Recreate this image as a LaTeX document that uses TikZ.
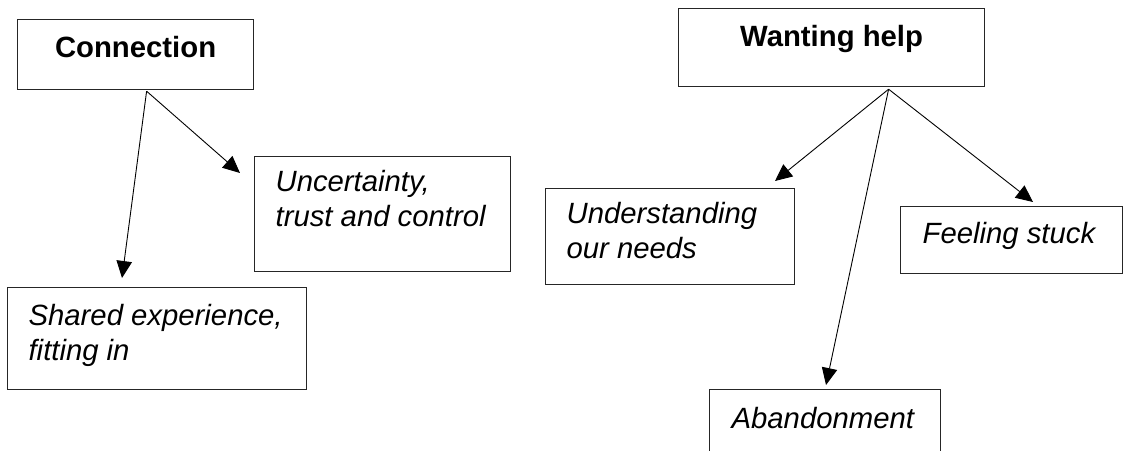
\documentclass[tikz,border=0pt]{standalone}
\usepackage{fontspec}
\setmainfont{Liberation Sans}
\usetikzlibrary{arrows.meta}
% centred heading content: width, height, first baseline, text
\newcommand\headc[4]{\vbox to #2{\hsize=#1\relax\parindent=0pt\parskip=0pt%
  \leftskip=0pt plus 1fil\rightskip=0pt plus 1fil\parfillskip=0pt\relax
  \kern\dimexpr#3-30pt\relax\leavevmode\rule{0pt}{30pt}#4\par\vfil}}
% left-aligned sub-box content: width, height, left pad, first baseline, text
\newcommand\subc[5]{\vbox to #2{\hsize=#1\relax\parindent=0pt\parskip=0pt%
  \leftskip=#3\relax\rightskip=0pt plus 1fil\relax
  \baselineskip=35pt\relax\lineskiplimit=-100pt\relax
  \kern\dimexpr#4-30pt\relax\leavevmode\rule{0pt}{30pt}#5\par\vfil}}
\begin{document}
\begin{tikzpicture}[x=1pt,y=-1pt,
  box/.style={draw=black!85, line width=1.2pt, inner sep=0pt, anchor=north west},
  head/.style={box, font=\fontsize{29.3pt}{35pt}\selectfont\bfseries},
  sub/.style={box, font=\fontsize{29.3pt}{35pt}\selectfont\itshape},
  arr/.style={line width=0.9pt, draw=black, -{Triangle[length=17pt,width=15.5pt]}}]
\useasboundingbox (0,0) rectangle (1123,450);
\clip (0,0) rectangle (1123,450);

% left group
\node[head] (conn) at (17,19) {\headc{236pt}{70pt}{38pt}{Connection}};
\node[sub] (unc) at (254,156) {\subc{256pt}{115pt}{21pt}{35pt}{Uncertainty,\par trust and control}};
\node[sub] (shared) at (7,287) {\subc{299pt}{102pt}{21pt}{38pt}{Shared experience,\par fitting in}};

% right group
\node[head] (want) at (678,8) {\headc{306pt}{78pt}{38pt}{Wanting help}};
\node[sub] (und) at (545,188) {\subc{249pt}{96pt}{21pt}{35pt}{Understanding\par our needs}};
\node[sub] (stuck) at (900,206) {\subc{222pt}{67pt}{22pt}{37pt}{Feeling stuck}};
\node[sub] (aband) at (709,389) {\subc{231pt}{80pt}{22pt}{39pt}{Abandonment}};

% connector end points
\coordinate (cA) at ([xshift=11pt,yshift=-1pt]conn.south);
\coordinate (wA) at ([xshift=57pt,yshift=-2pt]want.south);
\coordinate (tShared) at (122,278);
\coordinate (tUnc) at (240,173);
\coordinate (tUnd) at (775,181);
\coordinate (tAband) at (826,385);
\coordinate (tStuck) at (1033,202);

\draw[arr] (cA) -- (tShared);
\draw[arr] (cA) -- (tUnc);
\draw[arr] (wA) -- (tUnd);
\draw[arr] (wA) -- (tAband);
\draw[arr] (wA) -- (tStuck);
\end{tikzpicture}
\end{document}
